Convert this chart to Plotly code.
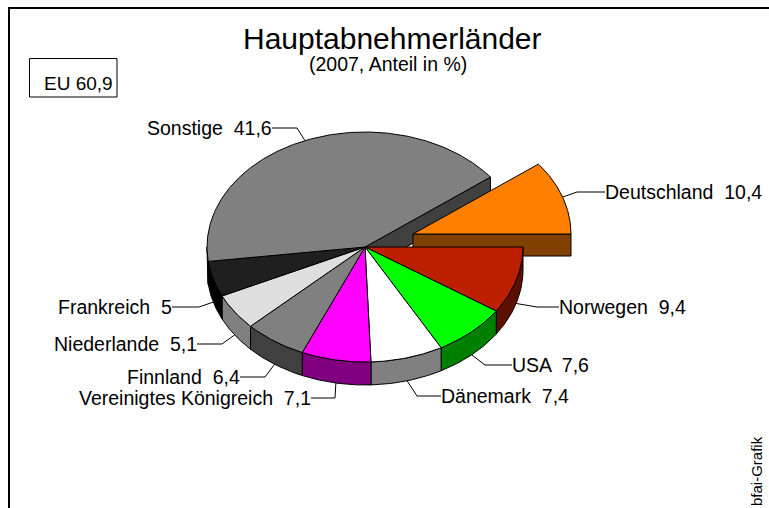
import numpy as np
import plotly.graph_objects as go

# Data
categories = ["Norwegen", "USA", "Dänemark", "Vereinigtes Königreich", "Finnland",
              "Niederlande", "Frankreich", "Sonstige", "Deutschland"]
values = [9.4, 7.6, 7.4, 7.1, 6.4, 5.1, 5, 41.6, 10.4]
value_labels = ["9,4", "7,6", "7,4", "7,1", "6,4", "5,1", "5", "41,6", "10,4"]
top_colors = ["#BD2000", "#00FF00", "#FFFFFF", "#FF00FF", "#808080",
              "#DFDFDF", "#1F1F1F", "#808080", "#FF8000"]
side_colors = ["#5E1000", "#008000", "#808080", "#800080", "#404040",
               "#808080", "#000000", "#404040", "#804000"]
title_text = "Hauptabnehmerländer"
subtitle_text = "(2007, Anteil in %)"
eu_text = "EU 60,9"
credit_text = "bfai-Grafik"

# Pie geometry (pixel-like axis units)
CX, CY, RX, RY, DEPTH = 365, 247, 158, 115, 23
EXPLODE = {"Deutschland": (48, -13)}
FONT = "Liberation Sans, Arial, sans-serif"

# Leader layout: elbow and end of leader; side the label sits on
leaders = {
    "Norwegen": ((537, 307), (559, 307), "left"),
    "USA": ((485, 365), (512, 365), "left"),
    "Dänemark": ((417, 396), (441, 396), "left"),
    "Vereinigtes Königreich": ((335, 398), (311, 398), "right"),
    "Finnland": ((265, 377), (240, 377), "right"),
    "Niederlande": ((222, 344), (197, 344), "right"),
    "Frankreich": ((199, 307), (172, 307), "right"),
    "Sonstige": ((297, 128), (272, 128), "right"),
    "Deutschland": ((577, 192), (605, 192), "left"),
}

total = sum(values)
edges = np.cumsum([0] + values) / total * 360.0
fig = go.Figure()


def poly(xs, ys, color):
    fig.add_trace(go.Scatter(
        x=list(xs) + [xs[0]], y=list(ys) + [ys[0]], mode="lines", fill="toself",
        fillcolor=color, line=dict(color="#000000", width=1),
        hoverinfo="skip", showlegend=False))


def arc(a0, a1, cx, cy):
    t = np.radians(np.linspace(a0, a1, max(int(abs(a1 - a0) * 2), 2)))
    return cx + RX * np.cos(t), cy + RY * np.sin(t)


sl = list(zip(categories, edges[:-1], edges[1:], top_colors, side_colors))

# Cut face of the big slice, behind the pulled-out slice
son = sl[categories.index("Sonstige")]
ex, ey = arc(son[2], son[2], CX, CY)
poly([CX, ex[0], ex[0], CX], [CY, ey[0], ey[0] + DEPTH, CY + DEPTH], son[4])

# Pulled-out slice
de = sl[categories.index("Deutschland")]
dx, dy = EXPLODE["Deutschland"]
poly([CX + dx, CX + dx + RX, CX + dx + RX, CX + dx],
     [CY + dy, CY + dy, CY + dy + DEPTH - 1, CY + dy + DEPTH - 1], de[4])
ax, ay = arc(de[1], de[2], CX + dx, CY + dy)
poly([CX + dx] + list(ax), [CY + dy] + list(ay), de[3])

# Outer walls of the front half
for name, a0, a1, top, side in sl:
    if name == "Deutschland":
        continue
    lo, hi = max(a0, 0), min(a1, 180)
    if lo < hi:
        ax, ay = arc(lo, hi, CX, CY)
        poly(list(ax) + list(ax[::-1]), list(ay) + list(ay[::-1] + DEPTH), side)

# Top faces
for name, a0, a1, top, side in sl:
    if name == "Deutschland":
        continue
    ax, ay = arc(a0, a1, CX, CY)
    poly([CX] + list(ax), [CY] + list(ay), top)

# Leaders and labels
annotations = []
for (name, a0, a1, top, side), vl in zip(sl, value_labels):
    mid = (a0 + a1) / 2
    ox, oy = EXPLODE.get(name, (0, 0))
    px, py = arc(mid, mid, CX + ox, CY + oy)
    px, py = px[0], py[0] + (DEPTH if 0 < mid < 180 else 0)
    elbow, end, anchor = leaders[name]
    fig.add_trace(go.Scatter(
        x=[px, elbow[0], end[0]], y=[py, elbow[1], end[1]], mode="lines",
        line=dict(color="#000000", width=1), hoverinfo="skip", showlegend=False))
    annotations.append(dict(x=end[0], y=end[1], text=f"{name}  {vl}", showarrow=False,
                            xanchor=anchor, yanchor="middle", borderpad=0, borderwidth=0,
                            font=dict(family=FONT, size=19.5, color="#000000")))

annotations += [
    dict(x=388, y=64, text=subtitle_text, showarrow=False, xanchor="center", yanchor="middle",
         font=dict(family=FONT, size=19.5, color="#000000")),
    dict(x=392, y=38, text=title_text, showarrow=False, xanchor="center", yanchor="middle",
         font=dict(family=FONT, size=30, color="#000000")),
    dict(x=78, y=83, text=eu_text, showarrow=False, xanchor="center", yanchor="middle",
         font=dict(family=FONT, size=19, color="#000000")),
    dict(x=756, y=471, text=credit_text, showarrow=False, xanchor="center", yanchor="middle",
         textangle=-90, font=dict(family=FONT, size=15, color="#000000")),
]

shapes = [
    dict(type="rect", x0=9, y0=8, x1=790, y1=530, line=dict(color="#000000", width=2),
         fillcolor="rgba(0,0,0,0)", layer="below"),
    dict(type="rect", x0=29.5, y0=58.5, x1=117, y1=97, line=dict(color="#000000", width=1),
         fillcolor="#FFFFFF", layer="below"),
]

fig.update_layout(
    width=769, height=508, margin=dict(l=0, r=0, t=0, b=0),
    paper_bgcolor="#FFFFFF", plot_bgcolor="#FFFFFF", showlegend=False,
    xaxis=dict(range=[0, 769], visible=False, fixedrange=True),
    yaxis=dict(range=[508, 0], visible=False, fixedrange=True),
    annotations=annotations, shapes=shapes,
)
fig.write_html("out.html", config=dict(displayModeBar=False),
               post_script="document.body.style.margin='0';document.documentElement.style.overflow='hidden';")
